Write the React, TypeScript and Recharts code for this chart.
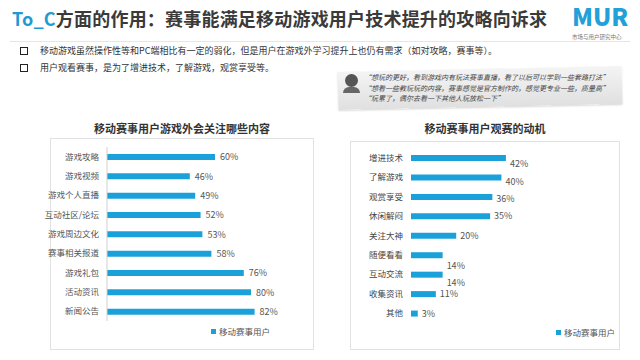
import React from "react";
import { BarChart, Bar, XAxis, YAxis, LabelList } from "recharts";

const FONT = '"Noto Sans CJK SC", "Noto Sans", sans-serif';
const BLUE = "#1ba1d9";

const seriesName = "移动赛事用户";

// left chart: what mobile esports users follow outside the game
const contentTopics = [
  "游戏攻略",
  "游戏视频",
  "游戏个人直播",
  "互动社区/论坛",
  "游戏周边文化",
  "赛事相关报道",
  "游戏礼包",
  "活动资讯",
  "新闻公告",
];
const contentShare = [60, 46, 49, 52, 53, 58, 76, 80, 82];

// right chart: why they watch esports
const motives = [
  "增进技术",
  "了解游戏",
  "观赏享受",
  "休闲解闷",
  "关注大神",
  "随便看看",
  "互动交流",
  "收集资讯",
  "其他",
];
const motiveShare = [42, 40, 36, 35, 20, 14, 14, 11, 3];

const bullets = [
  "移动游戏虽然操作性等和PC端相比有一定的弱化，但是用户在游戏外学习提升上也仍有需求（如对攻略，赛事等）。",
  "用户观看赛事，是为了增进技术，了解游戏，观赏享受等。",
];

const quotes = [
  "“想玩的更好，看到游戏内有玩法赛事直播，看了以后可以学到一些套路打法”",
  "“想看一些教玩玩的内容，赛事感觉是官方制作的，感觉更专业一些，质量高”",
  "“玩累了，偶尔去看一下其他人玩放松一下”",
];

// the right chart's value labels sit a little below some bars in the original
const motiveLabelDrop = [6, 5, 2, 0, 0, 11, 8, 0, 0];

const leftData = contentTopics.map((name, i) => ({ name, value: contentShare[i] }));
const rightData = motives.map((name, i) => ({ name, value: motiveShare[i] }));

function MotiveLabel(props: any) {
  const { x, y, width, height, value, index } = props;
  return (
    <text
      x={x + width + 4}
      y={y + height / 2 + (motiveLabelDrop[index] || 0)}
      dy={3}
      fontSize={9}
      fill="#555"
      fontFamily={FONT}
    >
      {value}%
    </text>
  );
}

function Frame({ left, top, width, height }: { left: number; top: number; width: number; height: number }) {
  return (
    <div
      style={{
        position: "absolute",
        left,
        top,
        width,
        height,
        border: "1px solid #e2e2e2",
        boxSizing: "border-box",
      }}
    />
  );
}

function LegendKey({ left, top }: { left: number; top: number }) {
  return (
    <div style={{ position: "absolute", left, top, display: "flex", alignItems: "center", fontSize: 8.5, color: "#555", whiteSpace: "nowrap" }}>
      <span style={{ display: "inline-block", width: 5, height: 5, background: BLUE, marginRight: 3 }} />
      {seriesName}
    </div>
  );
}

export default function App() {
  return (
    <div
      style={{
        position: "absolute",
        left: 0,
        top: 0,
        width: 640,
        height: 360,
        background: "#fff",
        fontFamily: FONT,
        overflow: "hidden",
      }}
    >
      {/* heading */}
      <div
        style={{
          position: "absolute",
          left: 12,
          top: 6,
          fontSize: 18,
          fontWeight: 700,
          color: "#3a3a3a",
          whiteSpace: "nowrap",
          letterSpacing: 0.2,
          lineHeight: "24px",
        }}
      >
        <span style={{ color: "#1f9bd4" }}>To_C</span>方面的作用：赛事能满足移动游戏用户技术提升的攻略向诉求
      </div>
      <div style={{ position: "absolute", left: 572, top: 0, fontSize: 24, lineHeight: "32px", fontWeight: 900, color: "#22a0d8", whiteSpace: "nowrap" }}>
        MUR
      </div>
      <div style={{ position: "absolute", left: 572, top: 34, fontSize: 5.5, lineHeight: "6px", color: "#777", whiteSpace: "nowrap" }}>
        市场与用户研究中心
      </div>
      <div style={{ position: "absolute", left: 10, top: 41, width: 620, height: 1, background: "#e6e6e6" }} />

      {bullets.map((b, i) => (
        <div
          key={i}
          style={{ position: "absolute", left: 20, top: 44 + i * 17, fontSize: 9, color: "#333", whiteSpace: "nowrap", display: "flex", alignItems: "center" }}
        >
          <span style={{ display: "inline-block", width: 6, height: 6, border: "1.5px solid #222", marginRight: 12 }} />
          {b}
        </div>
      ))}

      {/* quote strip */}
      <div
        style={{
          position: "absolute",
          left: 338,
          top: 69,
          width: 284,
          height: 38,
          background: "linear-gradient(180deg, #f4f4f4 0%, #e0e0e0 100%)",
          transform: "rotate(-1.2deg)",
          boxShadow: "0 1px 2px rgba(0,0,0,0.15)",
        }}
      />
      <div style={{ position: "absolute", left: 345, top: 74, width: 13, height: 13, borderRadius: "50%", background: "#555" }} />
      <div style={{ position: "absolute", left: 343, top: 87, width: 17, height: 6, borderRadius: "6px 6px 0 0", background: "#666" }} />
      {quotes.map((q, i) => (
        <div
          key={i}
          style={{ position: "absolute", left: 364, top: 72 + i * 10.5, fontSize: 7, fontStyle: "italic", color: "#444", whiteSpace: "nowrap" }}
        >
          {q}
        </div>
      ))}

      {/* left chart */}
      <div style={{ position: "absolute", left: 50, top: 120, width: 264, textAlign: "center", fontSize: 11, fontWeight: 700, color: "#333" }}>
        移动赛事用户游戏外会关注哪些内容
      </div>
      <Frame left={50} top={138} width={264} height={212} />
      <div style={{ position: "absolute", left: 44, top: 138 }}>
        <BarChart
          width={270}
          height={183}
          layout="vertical"
          data={leftData}
          margin={{ top: 9, right: 27, bottom: 0, left: 0 }}
          barCategoryGap={0}
        >
          <XAxis type="number" domain={[0, 100]} hide />
          <YAxis
            type="category"
            dataKey="name"
            width={63}
            interval={0}
            tickLine={false}
            axisLine={{ stroke: "#d0d0d0" }}
            tick={{ fontSize: 8.5, fill: "#555", fontFamily: FONT }}
          />
          <Bar dataKey="value" name={seriesName} fill={BLUE} barSize={6} isAnimationActive={false}>
            <LabelList dataKey="value" position="right" offset={5} formatter={(v: any) => `${v}%`} style={{ fontSize: 9, fill: "#555", fontFamily: FONT }} />
          </Bar>
        </BarChart>
      </div>
      <LegendKey left={211} top={325} />

      {/* right chart */}
      <div style={{ position: "absolute", left: 350, top: 120, width: 270, textAlign: "center", fontSize: 11, fontWeight: 700, color: "#333" }}>
        移动赛事用户观赛的动机
      </div>
      <Frame left={350} top={141} width={270} height={209} />
      <div style={{ position: "absolute", left: 344, top: 141 }}>
        <BarChart
          width={276}
          height={182}
          layout="vertical"
          data={rightData}
          margin={{ top: 7, right: 96, bottom: 0, left: 0 }}
          barCategoryGap={0}
        >
          <XAxis type="number" domain={[0, 50]} hide />
          <YAxis
            type="category"
            dataKey="name"
            width={67}
            interval={0}
            tickLine={false}
            axisLine={false}
            tick={{ fontSize: 8.5, fill: "#444", fontFamily: FONT }}
          />
          <Bar dataKey="value" name={seriesName} fill={BLUE} barSize={6} isAnimationActive={false}>
            <LabelList dataKey="value" content={<MotiveLabel />} />
          </Bar>
        </BarChart>
      </div>
      <LegendKey left={556} top={326} />
    </div>
  );
}
